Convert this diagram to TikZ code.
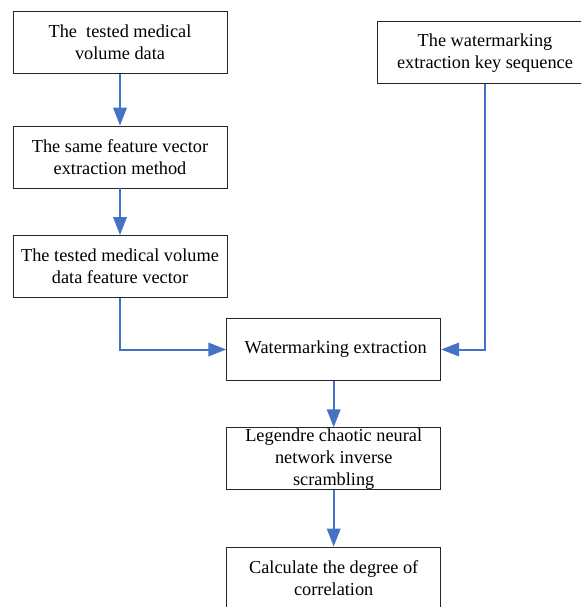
\documentclass[tikz,border=0pt]{standalone}
\usepackage{fontspec}
\setmainfont{Liberation Serif}
\usetikzlibrary{arrows.meta}
\definecolor{flowblue}{HTML}{4472C4}
\begin{document}
\begin{tikzpicture}[x=1pt,y=-1pt,
  box/.style={draw=black!85,line width=0.9pt,fill=white,rectangle,
    minimum width=214pt,minimum height=62pt,inner xsep=2pt,inner ysep=0pt,
    align=center,font=\fontsize{18.3}{22}\selectfont},
  arr/.style={draw=flowblue,line width=2pt,
    -{Triangle[length=18pt,width=13.5pt]}}]
\useasboundingbox (0,0) rectangle (581,607);
\clip (0,0) rectangle (581,607);

% left column
\node[box] (b1) at (120,42.5) {The\ \ tested medical\\volume data};
\node[box] (b2) at (120,157) {The same feature vector\\extraction method};
\node[box] (b3) at (120,266.5) {The tested medical volume\\data feature vector};

% key sequence
\node[box,minimum width=216pt] (b4) at (485,52.7) {The watermarking\\extraction key sequence};

% main chain
\node[box] (b5) at (333.7,349.5) {\hspace*{4pt}Watermarking extraction};
\node[box] (b6) at (333.7,458.8) {Legendre chaotic neural\\network inverse\\scrambling};
\node[box] (b7) at (333.7,578) {Calculate the degree of\\correlation};

% connectors
\draw[arr] (b1) -- (b2);
\draw[arr] (b2) -- (b3);
\draw[arr] (b3.south) |- (b5.west);
\draw[arr] (b4.south) |- (b5.east);
\draw[arr] (b5) -- (b6);
\draw[arr] (b6) -- (b7);
\end{tikzpicture}
\end{document}
